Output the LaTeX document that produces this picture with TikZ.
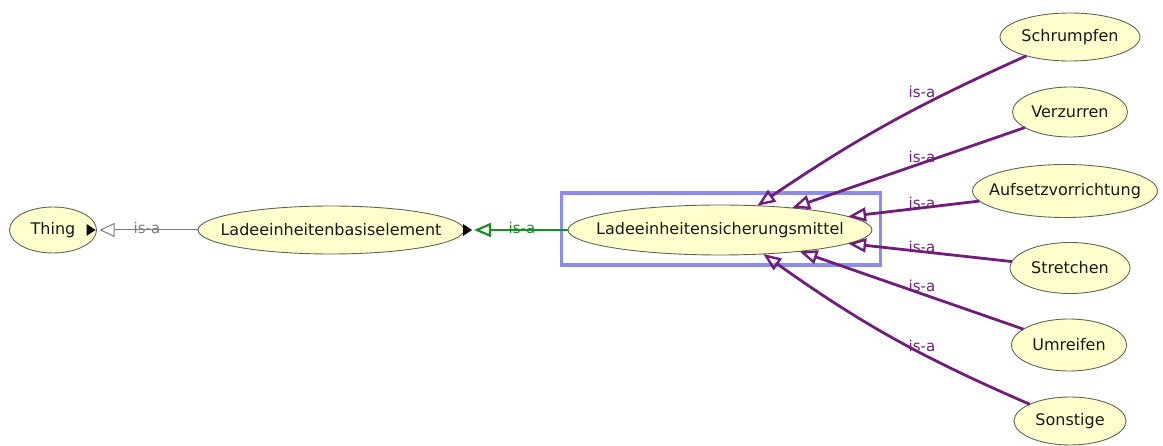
\documentclass[tikz,border=0pt]{standalone}
\usepackage{fontspec}
\setmainfont{DejaVu Sans}
\usetikzlibrary{shapes.geometric,arrows.meta}

\definecolor{nodefill}{RGB}{255,255,206}
\definecolor{nodeline}{RGB}{100,100,85}
\definecolor{isapurple}{RGB}{112,30,122}
\definecolor{isagreen}{RGB}{30,140,40}
\definecolor{isagray}{RGB}{125,125,125}
\definecolor{selblue}{RGB}{140,140,238}

% class name centred in a zero-width box so the ellipse size is set by minimum width/height only
\newcommand\clsname[1]{\hbox to 0pt{\hss#1\hss}}

\begin{document}
\begin{tikzpicture}[x=1pt,y=-1pt,
  cls/.style={ellipse, draw=nodeline, line width=0.9pt, fill=nodefill,
    inner sep=0pt, outer sep=0pt, text=black!90,
    font=\fontsize{16}{18}\selectfont},
  expander/.style={fill=black},
  isa/.style={draw=isapurple, line width=2.8pt,
    -{Triangle[open, length=18pt, width=14pt, line width=2.4pt]}},
  isagreenedge/.style={draw=isagreen, line width=2pt, shorten >=10pt,
    -{Triangle[open, length=17pt, width=14pt, line width=2.2pt]}},
  isagrayedge/.style={draw=isagray, line width=1pt, shorten >=3pt,
    -{Triangle[open, length=15pt, width=14pt, line width=1pt]}},
  lbl/.style={inner sep=0pt, font=\fontsize{15}{17}\selectfont},
  selection/.style={draw=selblue, line width=3.8pt, rectangle, inner sep=0pt,
    minimum width=319pt, minimum height=72pt}
]
\useasboundingbox (0,0) rectangle (1163,446);

% selection frame around the focused class
\node[selection] (selbox) at (721,229) {};

% classes
\node[cls, minimum width=87pt, minimum height=46pt] (thing) at (53,230) {\clsname{Thing}};
\node[cls, minimum width=266pt, minimum height=48pt] (basis) at (331,230) {\clsname{Ladeeinheitenbasiselement}};
\node[cls, minimum width=304pt, minimum height=50pt] (c) at (720,230) {\clsname{Ladeeinheitensicherungsmittel}};

\node[cls, minimum width=140pt, minimum height=48pt] (sch) at (1070,37)  {\clsname{Schrumpfen}};
\node[cls, minimum width=115pt, minimum height=50pt] (ver) at (1070,112) {\clsname{Verzurren}};
\node[cls, minimum width=185pt, minimum height=53pt] (auf) at (1065,191) {\clsname{Aufsetzvorrichtung}};
\node[cls, minimum width=120pt, minimum height=51pt] (str) at (1070,268) {\clsname{Stretchen}};
\node[cls, minimum width=115pt, minimum height=52pt] (umr) at (1069,345) {\clsname{Umreifen}};
\node[cls, minimum width=112pt, minimum height=48pt] (son) at (1070,421) {\clsname{Sonstige}};

% expand markers on collapsed classes
\fill[expander] ([shift={(-10pt,-6pt)}]thing.east) -- ([shift={(-1pt,0pt)}]thing.east)
  -- ([shift={(-10pt,6pt)}]thing.east) -- cycle;
\fill[expander] ([shift={(-1pt,-6pt)}]basis.east) -- ([shift={(8pt,0pt)}]basis.east)
  -- ([shift={(-1pt,6pt)}]basis.east) -- cycle;

% is-a edges towards the superclasses
\draw[isagrayedge] (basis) -- (thing);
\draw[isagreenedge] (c) -- (basis);
\node[lbl, text=isagray] (lthing) at (147,228) {is-a};
\node[lbl, text=isagreen] (lbasis) at (522,228) {is-a};

% is-a edges from the subclasses
\draw[isa] (sch) to[bend right=5] (c.33);
\draw[isa] (ver) -- (c.17.6);
\draw[isa] (auf) -- (c.6.2);
\draw[isa] (str) -- (c.-6.2);
\draw[isa] (umr) -- (c.-15.7);
\draw[isa] (son) to[bend left=6] (c.-29.8);

\node[lbl, text=isapurple] (lsch) at (922,92)  {is-a};
\node[lbl, text=isapurple] (lver) at (922,157) {is-a};
\node[lbl, text=isapurple] (lauf) at (922,203) {is-a};
\node[lbl, text=isapurple] (lstr) at (922,247) {is-a};
\node[lbl, text=isapurple] (lumr) at (922,286) {is-a};
\node[lbl, text=isapurple] (lson) at (922,346) {is-a};
\end{tikzpicture}
\end{document}
